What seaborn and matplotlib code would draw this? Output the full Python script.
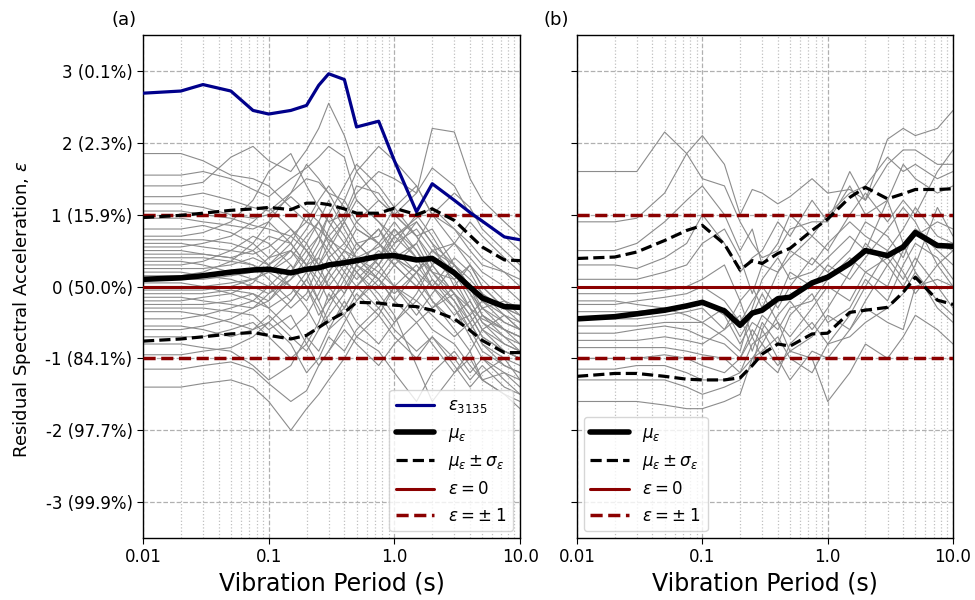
import numpy as np
import pandas as pd
import matplotlib
matplotlib.use("Agg")
import matplotlib.pyplot as plt
import seaborn as sns
from matplotlib.ticker import FixedLocator, FixedFormatter, LogLocator, NullFormatter

# ---------------- data ----------------
periods = [0.01, 0.02, 0.03, 0.05, 0.075, 0.1, 0.15, 0.2, 0.25, 0.3, 0.4, 0.5,
           0.75, 1.0, 1.5, 2.0, 3.0, 4.0, 5.0, 7.5, 10.0]

eps_3135 = [2.69, 2.72, 2.81, 2.72, 2.45, 2.40, 2.45, 2.52, 2.80, 2.96, 2.88, 2.22,
            2.30, 1.75, 1.04, 1.43, 1.20, 1.03, 0.91, 0.69, 0.65]

mean_a = [0.10, 0.12, 0.15, 0.20, 0.23, 0.24, 0.19, 0.24, 0.26, 0.30, 0.33, 0.36,
          0.42, 0.43, 0.37, 0.39, 0.19, -0.01, -0.16, -0.28, -0.29]
upper_a = [0.96, 0.99, 1.02, 1.06, 1.08, 1.10, 1.07, 1.16, 1.16, 1.14, 1.08, 1.02,
           1.02, 1.09, 1.00, 1.08, 0.92, 0.71, 0.55, 0.37, 0.36]
lower_a = [-0.76, -0.73, -0.70, -0.66, -0.64, -0.68, -0.73, -0.68, -0.57, -0.48, -0.36, -0.22,
           -0.23, -0.26, -0.28, -0.33, -0.45, -0.61, -0.75, -0.92, -0.92]

mean_b = [-0.45, -0.42, -0.38, -0.33, -0.27, -0.22, -0.34, -0.54, -0.37, -0.33, -0.17, -0.15,
          0.05, 0.13, 0.32, 0.50, 0.43, 0.55, 0.75, 0.57, 0.56]
upper_b = [0.39, 0.41, 0.48, 0.64, 0.78, 0.85, 0.59, 0.23, 0.36, 0.32, 0.46, 0.53,
           0.78, 0.94, 1.24, 1.38, 1.22, 1.29, 1.35, 1.35, 1.36]
lower_b = [-1.25, -1.21, -1.21, -1.25, -1.29, -1.30, -1.30, -1.27, -1.10, -0.94, -0.80, -0.83,
           -0.66, -0.65, -0.36, -0.33, -0.29, -0.08, 0.13, -0.19, -0.25]

records_a = [
    [1.85, 1.85, 1.75, 1.55, 1.50, 1.40, 1.10, 0.90, 0.80, 0.65, 0.50, 0.40, 0.55, 0.80, 0.40, 0.20, -0.10, -0.30, -0.45, -0.60, -0.70],
    [1.55, 1.55, 1.60, 1.50, 1.35, 1.25, 1.50, 1.65, 1.80, 1.95, 1.80, 1.20, 0.90, 0.70, 0.95, 1.10, 0.80, 0.50, 0.30, 0.20, 0.10],
    [1.40, 1.40, 1.45, 1.80, 1.95, 1.75, 1.60, 1.90, 2.20, 2.55, 2.10, 1.60, 1.20, 1.00, 1.30, 1.65, 1.40, 1.00, 0.90, 0.70, 0.50],
    [1.25, 1.25, 1.30, 1.20, 1.10, 1.05, 1.30, 1.50, 1.45, 1.30, 1.20, 1.60, 1.95, 1.75, 1.40, 1.00, 0.80, 0.60, 0.40, 0.20, 0.00],
    [1.15, 1.15, 1.10, 1.00, 0.95, 1.00, 1.25, 1.05, 0.90, 0.70, 0.95, 1.30, 1.60, 1.50, 1.30, 2.20, 2.15, 1.50, 1.20, 0.90, 0.70],
    [1.05, 1.05, 1.00, 0.95, 0.85, 0.80, 0.70, 0.90, 1.20, 1.40, 1.10, 0.80, 0.60, 0.40, 0.20, 0.50, 0.30, 0.10, -0.10, -0.30, -0.40],
    [0.95, 0.95, 0.90, 0.85, 0.80, 0.90, 1.30, 1.70, 1.50, 1.30, 0.90, 0.60, 0.70, 1.10, 1.40, 1.00, 0.60, 0.40, 0.20, 0.00, -0.20],
    [0.80, 0.80, 0.85, 0.75, 0.60, 0.40, 0.50, 0.80, 1.10, 0.90, 0.60, 0.40, 0.10, -0.10, 0.20, 0.40, 0.20, -0.10, -0.30, -0.50, -0.60],
    [0.70, 0.70, 0.75, 0.90, 1.20, 1.60, 1.85, 1.40, 1.10, 0.90, 1.00, 1.40, 1.30, 1.00, 0.70, 0.80, 0.30, 0.00, -0.20, -0.40, -0.50],
    [0.60, 0.60, 0.55, 0.50, 0.45, 0.55, 0.80, 0.60, 0.30, 0.50, 0.90, 1.20, 0.90, 0.60, 0.80, 0.50, 0.60, 0.90, 0.70, 0.40, 0.20],
    [0.50, 0.50, 0.45, 0.40, 0.50, 0.70, 0.60, 0.30, 0.00, 0.20, 0.50, 0.30, 0.00, 0.30, 0.60, 1.00, 1.30, 1.10, 0.80, 0.50, 0.30],
    [0.40, 0.40, 0.40, 0.35, 0.30, 0.20, 0.40, 0.70, 0.90, 0.60, 0.30, 0.10, 0.40, 0.80, 0.50, 0.10, -0.30, -0.60, -0.90, -1.10, -1.20],
    [0.35, 0.35, 0.30, 0.20, 0.10, 0.20, 0.50, 0.30, 0.40, 0.80, 1.20, 0.90, 0.60, 0.40, 0.20, -0.20, -0.50, -0.40, -0.70, -0.90, -1.00],
    [0.25, 0.25, 0.25, 0.30, 0.40, 0.30, 0.00, -0.20, 0.10, 0.40, 0.60, 0.90, 1.20, 1.00, 0.70, 0.40, 0.10, 0.30, 0.00, -0.30, -0.40],
    [0.20, 0.20, 0.15, 0.10, 0.00, -0.10, 0.10, 0.40, 0.70, 0.50, 0.20, 0.50, 0.80, 0.50, 0.20, 0.00, 0.40, 0.20, -0.10, -0.40, -0.60],
    [0.10, 0.10, 0.10, 0.15, 0.20, 0.40, 0.70, 0.50, 0.20, 0.00, -0.30, 0.00, 0.40, 0.70, 0.90, 0.60, 0.30, 0.00, -0.30, -0.20, -0.40],
    [0.05, 0.05, 0.00, -0.10, -0.20, -0.30, -0.10, 0.20, 0.50, 0.70, 0.40, 0.20, 0.50, 0.30, 0.00, -0.30, -0.10, -0.40, -0.70, -0.90, -1.00],
    [-0.05, -0.05, -0.05, 0.00, 0.10, 0.00, -0.30, -0.10, 0.30, 0.60, 0.90, 0.60, 0.30, 0.60, 1.00, 0.70, 0.20, -0.20, -0.50, -0.70, -0.80],
    [-0.15, -0.15, -0.20, -0.25, -0.30, -0.20, 0.10, 0.30, 0.10, -0.20, 0.00, 0.30, 0.10, -0.20, -0.50, -0.30, 0.00, 0.30, 0.10, -0.20, -0.30],
    [-0.25, -0.25, -0.25, -0.20, -0.10, -0.30, -0.60, -0.40, -0.10, 0.20, 0.50, 0.80, 0.60, 0.30, 0.00, 0.30, -0.10, -0.50, -0.80, -1.00, -1.10],
    [-0.35, -0.35, -0.40, -0.50, -0.60, -0.50, -0.20, 0.10, -0.20, -0.50, -0.30, 0.00, 0.30, 0.00, -0.20, 0.10, -0.20, -0.60, -0.40, -0.70, -0.90],
    [-0.45, -0.45, -0.40, -0.30, -0.20, 0.00, 0.30, 0.00, -0.40, -0.20, 0.20, 0.00, -0.30, 0.00, 0.30, 0.00, -0.40, -0.20, -0.50, -0.80, -0.90],
    [-0.55, -0.55, -0.60, -0.70, -0.60, -0.40, -0.70, -0.90, -0.60, -0.30, 0.10, 0.40, 0.10, -0.20, 0.20, 0.50, 0.20, -0.10, -0.40, -0.60, -0.80],
    [-0.70, -0.70, -0.70, -0.60, -0.50, -0.70, -1.00, -0.80, -0.50, -0.10, -0.40, -0.70, -0.40, 0.00, -0.30, -0.60, -0.80, -1.10, -1.30, -1.20, -1.40],
    [-0.80, -0.80, -0.85, -0.90, -1.10, -1.30, -1.10, -0.70, -0.90, -0.60, -0.20, -0.50, -0.80, -0.50, -0.20, -0.40, -0.70, -0.50, -0.80, -1.10, -1.20],
    [-0.95, -0.95, -0.90, -0.85, -0.70, -0.50, -0.80, -1.20, -1.00, -0.70, -0.90, -0.60, -0.30, -0.60, -0.90, -0.70, -1.00, -1.30, -1.10, -1.40, -1.50],
    [-1.15, -1.15, -1.10, -1.05, -1.15, -1.35, -1.60, -1.45, -1.10, -0.90, -0.60, -0.80, -1.10, -0.80, -0.50, -0.80, -1.20, -1.00, -1.30, -1.50, -1.60],
    [-1.40, -1.40, -1.35, -1.30, -1.40, -1.60, -2.00, -1.70, -1.50, -1.30, -1.00, -0.70, -0.90, -1.20, -1.60, -1.20, -0.90, -1.20, -1.00, -1.20, -1.30],
    [0.15, 0.15, 0.20, 0.35, 0.60, 0.90, 0.60, 0.30, 0.60, 1.00, 1.40, 1.70, 1.40, 1.10, 0.70, 0.30, 0.60, 0.30, 0.00, -0.30, -0.50],
    [-0.30, -0.30, -0.30, -0.35, -0.40, -0.60, -0.40, -0.80, -1.10, -0.90, -0.50, -0.20, 0.10, 0.40, 0.10, -0.20, -0.60, -0.90, -0.60, -0.90, -1.00],
    [0.30, 0.30, 0.35, 0.50, 0.70, 0.60, 0.30, 0.00, -0.30, -0.60, -0.40, -0.10, -0.40, -0.70, -1.00, -0.70, -1.10, -1.40, -1.20, -1.00, -1.30],
    [0.00, 0.00, 0.00, 0.05, 0.10, 0.20, 0.00, -0.30, -0.60, -0.40, -0.10, 0.20, -0.10, -0.40, -1.10, -1.60, -1.20, -0.90, -1.30, -1.50, -1.70],
    [0.55, 0.55, 0.60, 0.70, 0.90, 1.10, 0.80, 0.50, 0.70, 1.00, 0.70, 0.40, 0.20, 0.50, 0.90, 0.60, 0.00, -0.30, -0.60, -0.80, -0.90],
    [-0.10, -0.10, -0.10, -0.05, -0.10, -0.20, 0.20, 0.60, 0.90, 1.20, 0.80, 0.50, 0.80, 0.40, 0.60, 0.20, -0.20, -0.50, -0.30, -0.60, -0.70],
    [0.45, 0.45, 0.45, 0.40, 0.30, 0.10, -0.20, 0.10, 0.40, 0.20, -0.10, 0.30, 0.60, 0.90, 0.50, 0.20, 0.10, -0.30, -0.60, -0.40, -0.60],
    [-0.60, -0.60, -0.55, -0.45, -0.30, -0.10, 0.20, 0.50, 0.30, 0.00, 0.30, 0.60, 0.30, 0.70, 0.40, 0.00, -0.30, -0.70, -1.00, -1.30, -1.50],
    [0.65, 0.65, 0.65, 0.60, 0.50, 0.30, 0.60, 1.00, 0.70, 0.40, 0.10, -0.20, 0.20, 0.00, -0.40, -0.10, 0.30, 0.00, -0.40, -0.60, -0.70],
    [-0.20, -0.20, -0.15, -0.10, 0.05, 0.30, 0.50, 0.20, -0.20, 0.10, 0.40, 0.20, -0.20, -0.50, -0.10, 0.30, -0.10, -0.40, -0.20, -0.50, -0.60],
]

records_b = [
    [1.60, 1.60, 1.60, 2.15, 1.85, 2.10, 1.70, 1.00, 1.35, 1.30, 1.15, 1.25, 1.50, 1.30, 1.35, 1.20, 2.05, 2.20, 2.10, 2.20, 2.45],
    [0.90, 0.90, 0.95, 1.30, 1.85, 1.50, 1.40, 0.90, 0.60, 0.40, 0.50, 0.80, 0.90, 0.90, 1.60, 1.20, 1.70, 1.90, 1.90, 1.70, 1.70],
    [0.50, 0.50, 0.60, 0.90, 1.20, 1.40, 1.00, 0.50, 0.80, 0.30, 0.20, 0.40, 0.70, 1.00, 1.30, 1.40, 1.80, 1.60, 1.70, 1.50, 1.60],
    [0.30, 0.30, 0.25, 0.40, 0.60, 1.00, 0.60, 0.20, 0.40, 0.50, 0.90, 0.70, 1.20, 0.90, 1.40, 1.00, 1.20, 1.70, 1.50, 1.30, 1.40],
    [0.10, 0.10, 0.10, 0.20, 0.30, 0.60, 0.80, 0.40, -0.10, 0.30, 0.60, 1.00, 0.70, 0.50, 1.00, 1.30, 0.90, 1.20, 1.00, 1.60, 1.90],
    [-0.10, -0.10, -0.10, -0.05, 0.00, 0.10, 0.30, -0.20, 0.00, -0.30, 0.20, 0.50, 0.30, 0.60, 0.90, 0.70, 0.50, 0.80, 1.10, 0.70, 0.60],
    [-0.25, -0.25, -0.20, -0.15, -0.10, 0.00, -0.20, -0.50, -0.20, 0.00, -0.30, 0.00, 0.40, 0.20, 0.50, 0.90, 0.70, 0.40, 0.80, 0.50, 0.30],
    [-0.35, -0.35, -0.35, -0.30, -0.30, -0.20, -0.40, -0.80, -0.50, -0.60, -0.20, 0.20, 0.00, 0.30, 0.10, 0.40, 0.80, 1.10, 0.90, 0.30, 0.00],
    [-0.45, -0.45, -0.45, -0.40, -0.35, -0.30, -0.60, -0.20, -0.70, -0.40, -0.60, -0.30, -0.20, 0.10, 0.40, 0.20, 0.00, 0.50, 0.70, 0.90, 0.80],
    [-0.55, -0.55, -0.55, -0.50, -0.50, -0.50, -0.30, -0.70, -0.40, -0.10, -0.50, -0.70, -0.30, 0.00, -0.20, 0.20, 0.40, 0.10, 0.40, 0.00, -0.30],
    [-0.65, -0.65, -0.60, -0.55, -0.60, -0.70, -0.80, -1.00, -0.60, -0.80, -0.40, -0.20, -0.60, -0.30, 0.20, 0.60, 0.30, 0.00, 0.30, 1.10, 0.70],
    [-0.75, -0.75, -0.75, -0.70, -0.75, -0.80, -0.60, -0.40, -0.90, -0.50, -0.80, -0.40, -0.10, -0.50, -0.30, 0.10, -0.20, 0.30, 0.60, 0.40, 0.10],
    [-0.85, -0.85, -0.85, -0.85, -0.90, -0.95, -1.00, -1.20, -0.80, -0.70, -0.50, -0.90, -0.70, -0.40, -0.60, -0.20, 0.30, 0.60, 0.20, -0.20, -0.40],
    [-1.00, -1.00, -1.00, -0.95, -1.00, -1.10, -1.20, -1.00, -0.70, -1.00, -1.20, -0.80, -0.50, -0.80, -0.40, 0.00, 0.50, 0.20, -0.10, 0.30, 0.50],
    [-1.15, -1.15, -1.10, -1.10, -1.20, -1.30, -1.30, -1.20, -1.00, -0.90, -0.70, -1.00, -1.20, -0.80, -0.70, -0.50, -0.30, -0.10, 0.20, -0.30, -0.50],
    [-1.30, -1.30, -1.30, -1.30, -1.40, -1.50, -1.40, -1.30, -1.10, -0.60, -1.00, -1.30, -0.90, -1.00, -0.60, -0.30, -0.50, -0.60, 0.00, 0.10, 0.00],
    [-1.60, -1.60, -1.60, -1.65, -1.70, -1.70, -1.60, -1.50, -1.00, -0.80, -1.10, -0.90, -1.00, -1.60, -1.20, -0.80, -1.00, -0.70, -0.40, -0.60, -0.80],
    [-0.20, -0.20, -0.25, -0.30, -0.40, -0.50, -0.70, -0.90, -0.30, 0.10, 0.40, 0.10, 0.20, 0.40, 0.70, 0.50, 1.20, 0.60, 0.80, 0.60, 0.50],
]

ytick_vals = [3, 2, 1, 0, -1, -2, -3]
ytick_labels = ["3 (0.1%)", "2 (2.3%)", "1 (15.9%)", "0 (50.0%)", "-1 (84.1%)", "-2 (97.7%)", "-3 (99.9%)"]
xtick_vals = [0.01, 0.1, 1.0, 10.0]
xtick_labels = ["0.01", "0.1", "1.0", "10.0"]
ref_zero = [0]
ref_pm1 = [1, -1]
panel_titles = ["(a)", "(b)"]

# ---------------- styling ----------------
sns.set_style("ticks")
plt.rcParams["font.family"] = ["DejaVu Sans"]
plt.rcParams["mathtext.fontset"] = "dejavusans"
for key in ["text.color", "axes.labelcolor", "xtick.color", "ytick.color", "axes.edgecolor"]:
    plt.rcParams[key] = "black"

BLUE = "#00008B"
DRED = "#8B0000"
GRAY = "#8c8c8c"
DASH = (0, (3.5, 1.6))

fig = plt.figure(figsize=(9.75, 6.0), dpi=100)
ax_a = fig.add_axes([0.1467, 0.1033, 0.3867, 0.8384])
ax_b = fig.add_axes([0.5918, 0.1033, 0.3857, 0.8384], sharey=ax_a)


def long_df(records):
    rows = []
    for i, rec in enumerate(records):
        for p, v in zip(periods, rec):
            rows.append((i, p, v))
    return pd.DataFrame(rows, columns=["rec", "T", "eps"])


def draw_panel(ax, records, mean, upper, lower, eps_rec=None):
    df = long_df(records)
    sns.lineplot(data=df, x="T", y="eps", units="rec", estimator=None, ax=ax,
                 color=GRAY, lw=0.8, legend=False, zorder=2)
    for r in ref_zero:
        ax.axhline(r, color=DRED, lw=2.2, zorder=3)
    for r in ref_pm1:
        ax.axhline(r, color=DRED, lw=2.5, ls=DASH, zorder=3)
    handles = []
    if eps_rec is not None:
        sns.lineplot(x=periods, y=eps_rec, ax=ax, color=BLUE, lw=2.3, zorder=4)
        handles.append((plt.Line2D([], [], color=BLUE, lw=2.3), r"$\varepsilon_{3135}$"))
    sns.lineplot(x=periods, y=mean, ax=ax, color="black", lw=4, zorder=5)
    sns.lineplot(x=periods, y=upper, ax=ax, color="black", lw=2.3, ls=DASH, zorder=5)
    sns.lineplot(x=periods, y=lower, ax=ax, color="black", lw=2.3, ls=DASH, zorder=5)
    handles += [
        (plt.Line2D([], [], color="black", lw=4), r"$\mu_\varepsilon$"),
        (plt.Line2D([], [], color="black", lw=2.3, ls=DASH), r"$\mu_\varepsilon \pm \sigma_\varepsilon$"),
        (plt.Line2D([], [], color=DRED, lw=2.2), r"$\varepsilon = 0$"),
        (plt.Line2D([], [], color=DRED, lw=2.5, ls=DASH), r"$\varepsilon = {\pm}\;1$"),
    ]
    ax.set_xscale("log")
    ax.set_xlim(0.01, 10.0)
    ax.set_ylim(-3.5, 3.5)
    ax.xaxis.set_major_locator(FixedLocator(xtick_vals))
    ax.xaxis.set_major_formatter(FixedFormatter(xtick_labels))
    ax.xaxis.set_minor_locator(LogLocator(base=10, subs=np.arange(2, 10), numticks=20))
    ax.xaxis.set_minor_formatter(NullFormatter())
    ax.set_yticks(ytick_vals)
    ax.grid(True, which="major", ls="--", color="#b0b0b0", lw=0.9)
    ax.grid(True, which="minor", axis="x", ls=":", color="#c0c0c0", lw=0.9)
    ax.tick_params(axis="both", which="major", labelsize=12, length=4)
    ax.tick_params(axis="x", which="minor", length=0)
    ax.set_xlabel("Vibration Period (s)", fontsize=17)
    for s in ax.spines.values():
        s.set_linewidth(1.0)
        s.set_color("black")
    return handles


h_a = draw_panel(ax_a, records_a, mean_a, upper_a, lower_a, eps_rec=eps_3135)
h_b = draw_panel(ax_b, records_b, mean_b, upper_b, lower_b)

ax_a.set_yticklabels(ytick_labels)
ax_a.set_ylabel(r"Residual Spectral Acceleration, $\varepsilon$", fontsize=13, labelpad=9)
ax_a.yaxis.label.set_y(0.455)
plt.setp(ax_b.get_yticklabels(), visible=False)
ax_b.set_ylabel("")

ax_a.legend([h for h, _ in h_a], [l for _, l in h_a], loc="lower right", fontsize=12,
            handlelength=2.3, borderpad=0.4, labelspacing=0.5, borderaxespad=0.4)
ax_b.legend([h for h, _ in h_b], [l for _, l in h_b], loc="lower left", fontsize=12,
            handlelength=2.3, borderpad=0.4, labelspacing=0.5, borderaxespad=0.4)

ax_a.text(-0.083, 1.012, panel_titles[0], transform=ax_a.transAxes, fontsize=13, ha="left", va="bottom")
ax_b.text(-0.09, 1.012, panel_titles[1], transform=ax_b.transAxes, fontsize=13, ha="left", va="bottom")

fig.savefig("out.png", dpi=100)
